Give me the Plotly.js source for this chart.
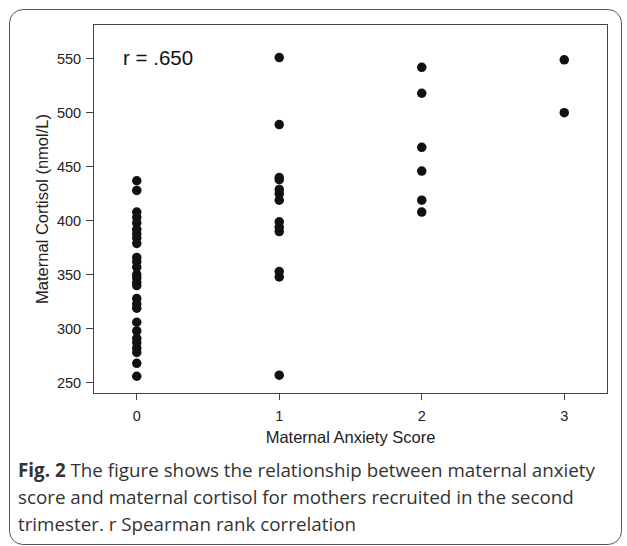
<!DOCTYPE html>
<html>
<head>
<meta charset="utf-8">
<script src="https://cdn.plot.ly/plotly-3.0.1.min.js"></script>
<style>
  html, body { margin: 0; padding: 0; background: #fff; }
  #wrap { position: relative; width: 627px; height: 546px; overflow: hidden; }
  #chart { position: absolute; left: 0; top: 0; width: 627px; height: 546px; }
  #frame { position: absolute; left: 9px; top: 9px; width: 613px; height: 536px;
           border: 1.5px solid #555; border-radius: 14px; box-sizing: border-box; pointer-events: none; }
</style>
</head>
<body>
<div id="wrap">
  <div id="chart"></div>
  <div id="frame"></div>
</div>
<script>
// Maternal anxiety score groups and cortisol values (nmol/L)
const anxiety0 = [437, 428, 408, 403, 398, 392, 388, 384, 379, 366, 362, 357, 350, 347, 343, 340, 328, 323, 319, 306, 298, 291, 287, 282, 278, 268, 256];
const anxiety1 = [551, 489, 440, 438, 429, 425, 419, 399, 394, 390, 353, 348, 257];
const anxiety2 = [542, 518, 468, 446, 419, 408];
const anxiety3 = [549, 500];
const scores = [0, 1, 2, 3];
const yTicks = [250, 300, 350, 400, 450, 500, 550];
const groups = [anxiety0, anxiety1, anxiety2, anxiety3];

const xs = [], ys = [];
groups.forEach((g, i) => g.forEach(v => { xs.push(scores[i]); ys.push(v); }));

const sans = 'Liberation Sans, Arial, sans-serif';
const axisFont = {family: sans, size: 14.5, color: '#222'};
const titleFont = {family: sans, size: 16.5, color: '#222'};
const capFont = {family: 'Open Sans, Noto Sans, sans-serif', size: 18.8, color: '#333'};

const trace = {
  x: xs, y: ys, type: 'scatter', mode: 'markers',
  marker: {size: 9.5, color: '#111'},
  hoverinfo: 'skip'
};

const captionLines = [
  '<b>Fig. 2</b> The figure shows the relationship between maternal anxiety',
  'score and maternal cortisol for mothers recruited in the second',
  'trimester. r Spearman rank correlation'
];
const capY = [470, 497, 524];
const plotTop = 25, plotBottom = 393, plotLeft = 94, plotRight = 607;
const toPaperY = py => (plotBottom - py) / (plotBottom - plotTop);
const toPaperX = px => (px - plotLeft) / (plotRight - plotLeft);

const annotations = captionLines.map((t, i) => ({
  text: t, xref: 'paper', yref: 'paper', x: toPaperX(16), y: toPaperY(capY[i]),
  xanchor: 'left', yanchor: 'middle', showarrow: false, font: capFont
}));
annotations.push({
  text: 'r = .650', xref: 'x', yref: 'y', x: -0.11, y: 551,
  xanchor: 'left', yanchor: 'middle', showarrow: false,
  font: {family: sans, size: 20.5, color: '#111'}
});

const layout = {
  width: 627, height: 546,
  margin: {l: plotLeft, r: 627 - plotRight, t: plotTop, b: 546 - plotBottom},
  paper_bgcolor: '#fff', plot_bgcolor: '#fff',
  showlegend: false,
  xaxis: {
    range: [-0.3, 3.3], tickvals: scores, ticktext: scores.map(String),
    showgrid: false, zeroline: false, showline: true, mirror: true,
    linecolor: '#444', linewidth: 1, ticks: 'outside', ticklen: 6, tickcolor: '#444',
    ticklabelstandoff: 4,
    tickfont: axisFont,
    title: {text: 'Maternal Anxiety Score', font: titleFont, standoff: 8}
  },
  yaxis: {
    range: [240.5, 581.2], tickvals: yTicks, ticktext: yTicks.map(String),
    showgrid: false, zeroline: false, showline: true, mirror: true,
    linecolor: '#444', linewidth: 1, ticks: 'outside', ticklen: 7, tickcolor: '#444',
    ticklabelstandoff: 2,
    tickfont: axisFont,
    title: {text: 'Maternal Cortisol (nmol/L)', font: titleFont, standoff: 4}
  },
  annotations: annotations
};

Plotly.newPlot('chart', [trace], layout, {displayModeBar: false, staticPlot: true});
</script>
</body>
</html>
